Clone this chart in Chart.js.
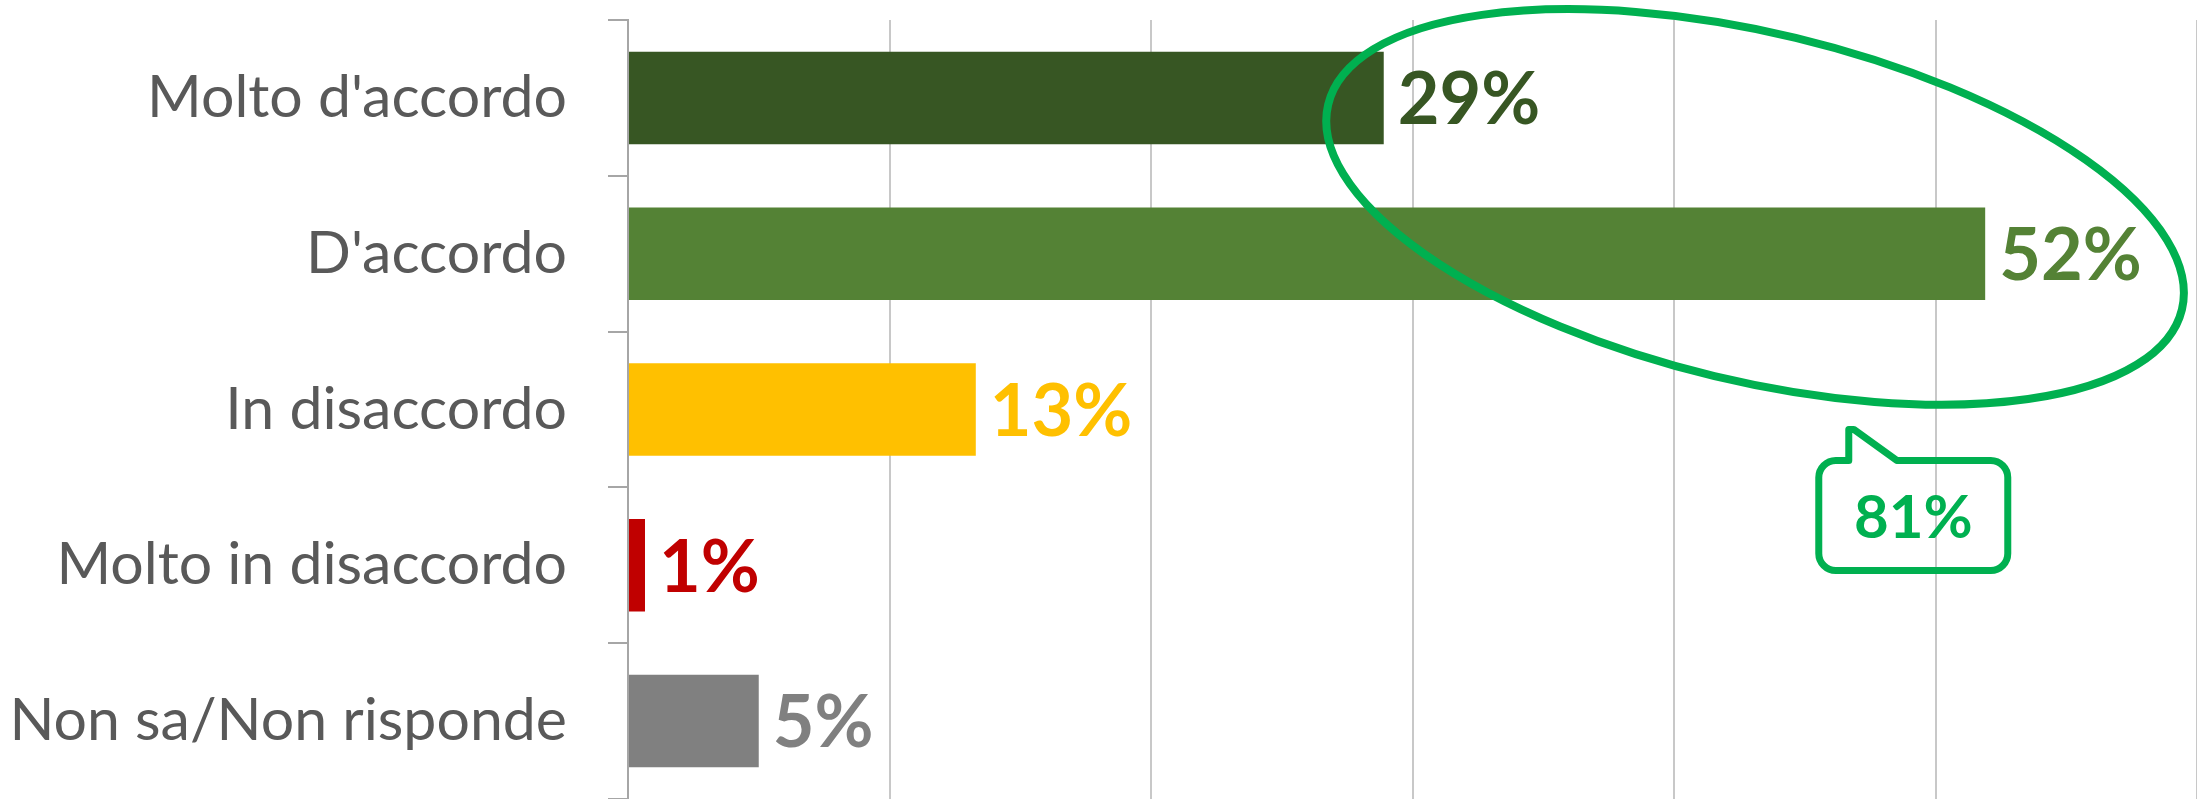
<!DOCTYPE html>
<html>
<head>
<meta charset="utf-8">
<script src="https://cdn.jsdelivr.net/npm/chart.js@4/dist/chart.umd.min.js"></script>
<style>
  html, body { margin: 0; padding: 0; background: #fff; }
  #wrap { width: 2197px; height: 799px; }
</style>
</head>
<body>
<div id="wrap"><canvas id="barChart" width="2197" height="799"></canvas></div>
<script>
// dati del grafico
const categories = ["Molto d'accordo", "D'accordo", "In disaccordo", "Molto in disaccordo", "Non sa/Non risponde"];
const values = [28.9, 51.9, 13.3, 0.65, 5.0];
const valueLabels = ["29%", "52%", "13%", "1%", "5%"];
const barColors = ["#375623", "#548235", "#FFC000", "#C00000", "#808080"];
const xTicks = [0, 10, 20, 30, 40, 50, 60];
const agreeTotal = "81%"; // Molto d'accordo + D'accordo

const FONT = "Lato, 'Open Sans', sans-serif";
const HILITE = "#00B050";

// etichette con le percentuali a destra delle barre
const valueLabelPlugin = {
  id: "valueLabels",
  afterDatasetsDraw(chart) {
    const ctx = chart.ctx;
    const meta = chart.getDatasetMeta(0);
    ctx.save();
    ctx.font = "bold 72px " + FONT;
    ctx.textAlign = "left";
    ctx.textBaseline = "middle";
    meta.data.forEach((bar, i) => {
      ctx.fillStyle = barColors[i];
      ctx.fillText(valueLabels[i], bar.x + 14, bar.y + 3);
    });
    ctx.restore();
  },
};

// ellisse verde e fumetto con il totale
const highlightPlugin = {
  id: "highlight",
  afterDraw(chart) {
    const ctx = chart.ctx;
    const xs = chart.scales.x;
    const ys = chart.scales.y;
    const step = ys.getPixelForValue(1) - ys.getPixelForValue(0);

    ctx.save();
    ctx.strokeStyle = HILITE;
    ctx.lineWidth = 8;
    // ellisse attorno alle prime due barre
    const cx = xs.getPixelForValue(43.1);
    const cy = ys.getPixelForValue(0) + 0.7 * step;
    ctx.beginPath();
    ctx.ellipse(cx, cy, 439, 174, (13.5 * Math.PI) / 180, 0, Math.PI * 2);
    ctx.stroke();

    // fumetto
    const bx = xs.getPixelForValue(49.15);
    const by = ys.getPixelForValue(0) + 2.68 * step;
    const w = 189, h = 110, r = 17;
    const left = bx - w / 2, top = by - h / 2;
    ctx.lineWidth = 7;
    ctx.lineJoin = "round";
    ctx.beginPath();
    ctx.moveTo(left + r, top);
    ctx.lineTo(left + 30, top);
    ctx.lineTo(left + 30, top - 31);
    ctx.lineTo(left + 35, top - 31);
    ctx.lineTo(left + 78, top);
    ctx.lineTo(left + w - r, top);
    ctx.arcTo(left + w, top, left + w, top + r, r);
    ctx.lineTo(left + w, top + h - r);
    ctx.arcTo(left + w, top + h, left + w - r, top + h, r);
    ctx.lineTo(left + r, top + h);
    ctx.arcTo(left, top + h, left, top + h - r, r);
    ctx.lineTo(left, top + r);
    ctx.arcTo(left, top, left + r, top, r);
    ctx.closePath();
    ctx.stroke();

    ctx.fillStyle = HILITE;
    ctx.font = "bold 60px " + FONT;
    ctx.textAlign = "center";
    ctx.textBaseline = "middle";
    ctx.fillText(agreeTotal, bx, by + 3);
    ctx.restore();
  },
};

const ctx = document.getElementById("barChart").getContext("2d");
new Chart(ctx, {
  type: "bar",
  data: {
    labels: categories,
    datasets: [
      {
        data: values,
        backgroundColor: barColors,
        borderWidth: 0,
        barPercentage: 0.594,
        categoryPercentage: 1,
      },
    ],
  },
  options: {
    indexAxis: "y",
    responsive: false,
    animation: false,
    layout: { padding: { top: 20, right: 0, bottom: 0, left: 0 } },
    plugins: {
      legend: { display: false },
      tooltip: { enabled: false },
    },
    scales: {
      x: {
        min: xTicks[0],
        max: xTicks[xTicks.length - 1],
        afterBuildTicks: (scale) => {
          scale.ticks = xTicks.map((v) => ({ value: v }));
        },
        afterFit: (scale) => {
          scale.height = 0;
          scale.paddingLeft = 0;
          scale.paddingRight = 0;
        },
        ticks: { display: false },
        grid: { color: "#C8C8C8", lineWidth: 2, drawTicks: false },
        border: { display: false },
      },
      y: {
        afterFit: (scale) => {
          scale.width = 628;
          scale.paddingTop = 0;
          scale.paddingBottom = 0;
        },
        ticks: {
          color: "#595959",
          padding: 41,
          font: { family: FONT, size: 59 },
        },
        grid: {
          offset: true,
          drawOnChartArea: false,
          tickLength: 20,
          color: "#A6A6A6",
          lineWidth: 2,
        },
        border: { color: "#A6A6A6", width: 2 },
      },
    },
  },
  plugins: [valueLabelPlugin, highlightPlugin],
});
</script>
</body>
</html>
